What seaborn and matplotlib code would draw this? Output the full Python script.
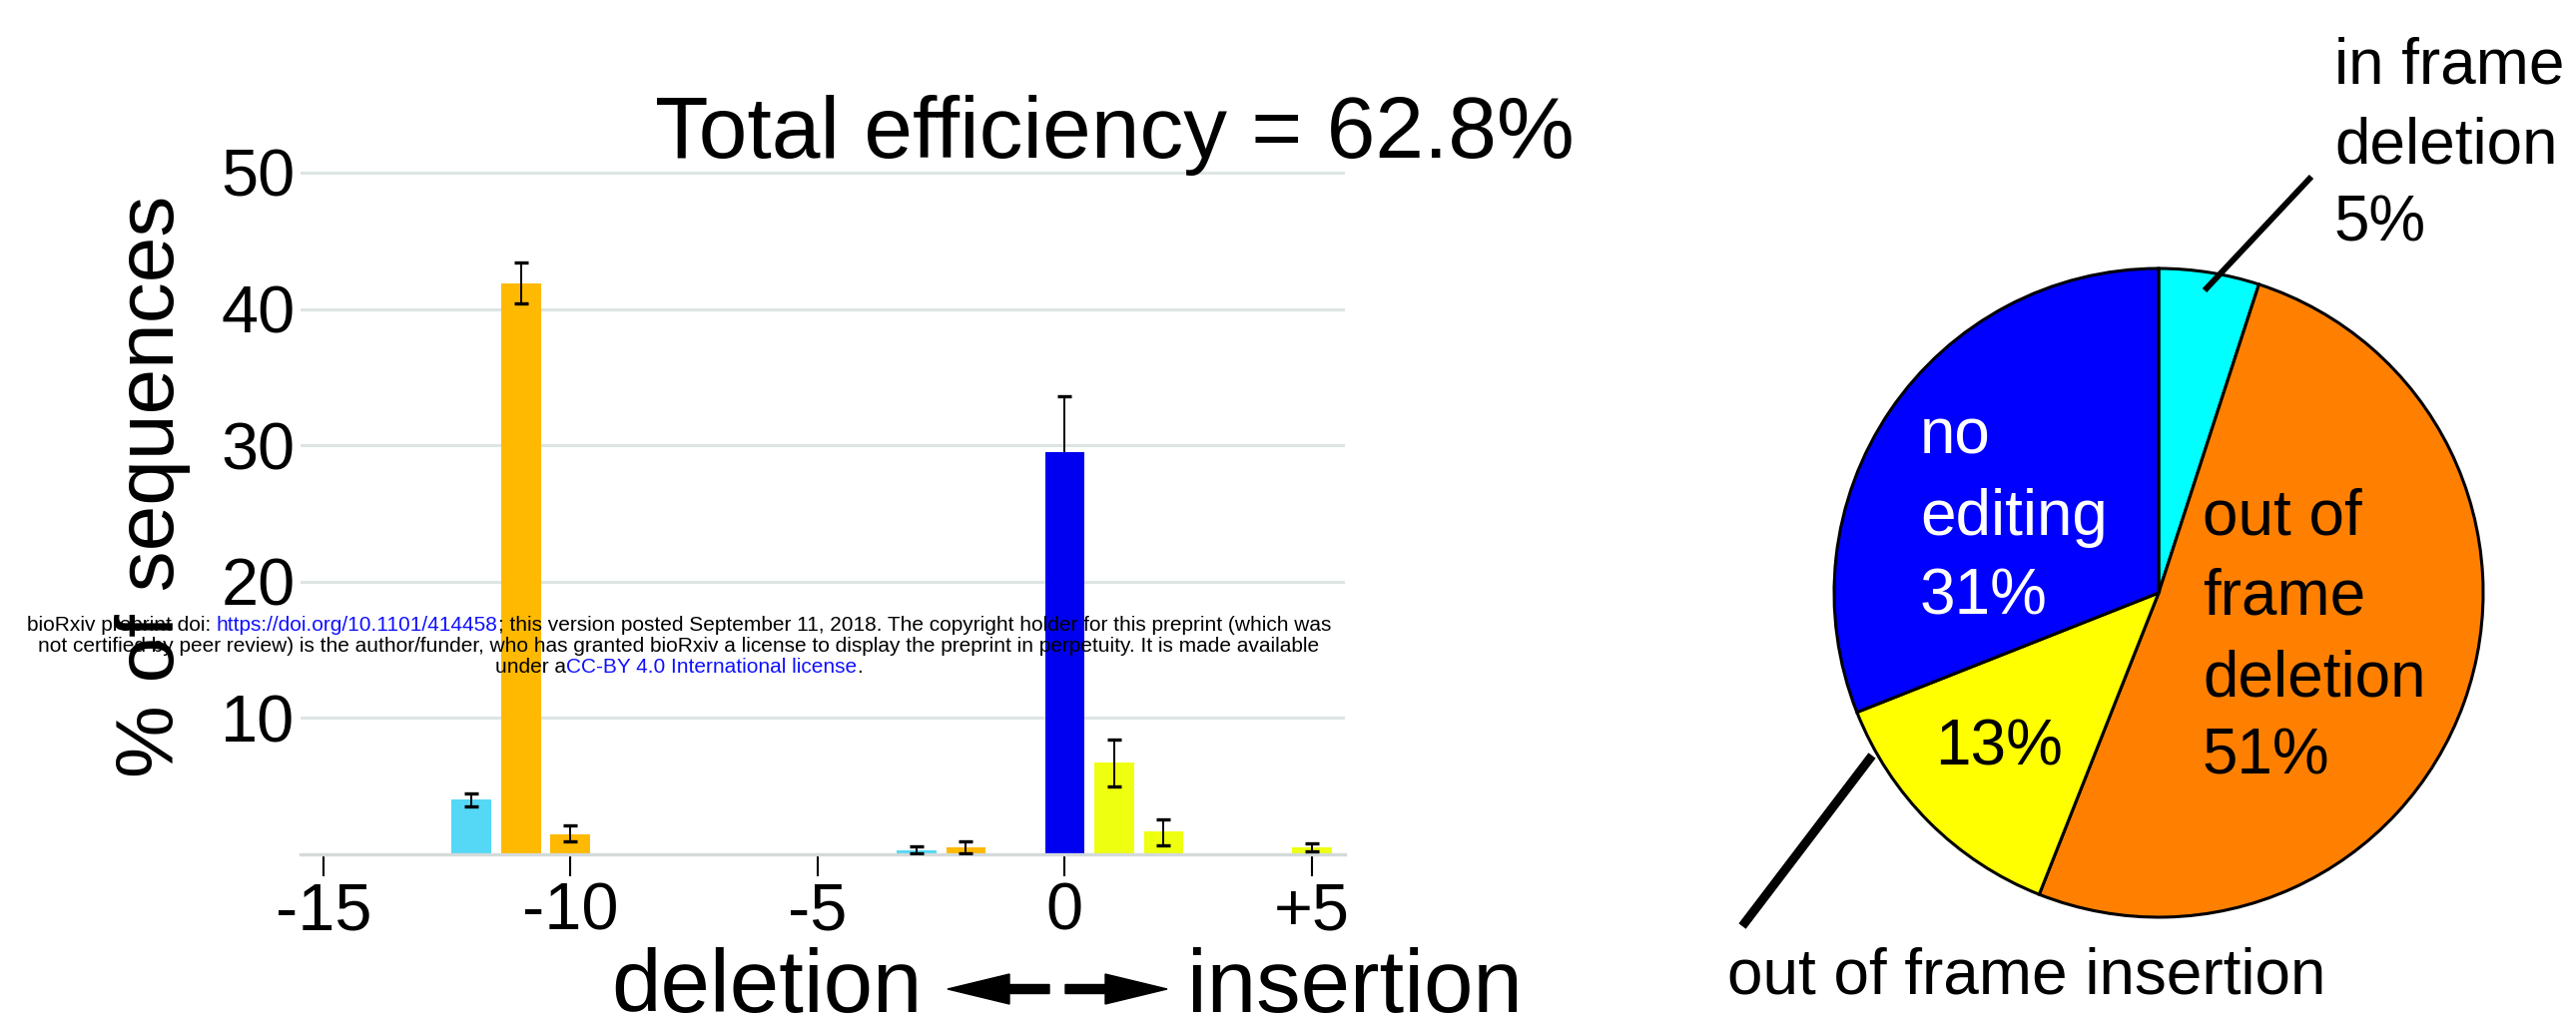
import numpy as np
import pandas as pd
import matplotlib
matplotlib.use("Agg")
import matplotlib.pyplot as plt
import matplotlib.transforms as mtransforms
from matplotlib.patches import FancyArrow
from matplotlib.lines import Line2D
import seaborn as sns

# ---- indel spectrum (bar chart) ----
indel_size = [-12, -11, -10, -3, -2, 0, 1, 2, 5]
pct_sequences = [4.0, 41.9, 1.45, 0.3, 0.5, 29.5, 6.7, 1.65, 0.5]
err_low = [0.45, 1.5, 0.5, 0.25, 0.45, 4.1, 1.7, 1.0, 0.3]
err_high = [0.5, 1.5, 0.7, 0.3, 0.45, 4.1, 1.7, 0.9, 0.3]
outcome = ["in frame deletion", "out of frame deletion", "out of frame deletion",
           "in frame deletion", "out of frame deletion", "no editing",
           "out of frame insertion", "out of frame insertion", "out of frame insertion"]
bar_palette = {"in frame deletion": "#55d8f6", "out of frame deletion": "#ffb900",
               "no editing": "#0000f0", "out of frame insertion": "#eeff10"}

x_ticks = [-15, -10, -5, 0, 5]
x_tick_labels = ["-15", "-10", "-5", "0", "+5"]
y_ticks = [10, 20, 30, 40, 50]
total_efficiency = 62.8

# ---- outcome summary (pie chart) ----
pie_categories = ["in frame deletion", "out of frame deletion", "out of frame insertion", "no editing"]
pie_pct = [5, 51, 13, 31]
pie_colors = ["#00ffff", "#ff8000", "#ffff00", "#0000ff"]

sns.set_theme(style="white")
plt.rcParams["font.family"] = ["Liberation Sans", "DejaVu Sans"]
plt.rcParams.update({"text.color": "black", "xtick.color": "black",
                     "ytick.color": "black", "axes.labelcolor": "black"})

W, H = 2580, 1022
fig = plt.figure(figsize=(W / 100, H / 100), dpi=100)
fig.patch.set_facecolor("white")


def fig_xy(x, y):
    """pixel position measured from the top-left corner -> figure fraction"""
    return x / W, 1 - y / H


def ftext(x, y, s, **kw):
    fx, fy = fig_xy(x, y)
    return fig.text(fx, fy, s, **kw)


# ---------------- bar chart ----------------
y0_px, px_per_pct = 856, 13.66
ymax = 51
ax = fig.add_axes([301 / W, 1 - y0_px / H, (1347 - 301) / W, ymax * px_per_pct / H])

df = pd.DataFrame({"indel": indel_size, "pct": pct_sequences, "outcome": outcome})
sns.barplot(data=df, x="indel", y="pct", hue="outcome", palette=bar_palette,
            native_scale=True, dodge=False, width=0.8, saturation=1,
            errorbar=None, legend=False, linewidth=0, zorder=2, ax=ax)

lo = np.array(err_low)
hi = np.array(err_high)
xs = np.array(indel_size, dtype=float)
ys = np.array(pct_sequences)
behind = np.array(outcome) == "no editing"
# the no-editing bar hides the lower half of its whisker
ax.errorbar(xs[behind], ys[behind], yerr=[lo[behind], hi[behind]], fmt="none",
            ecolor="black", elinewidth=1.4, capsize=5, capthick=2.4, zorder=1)
ax.errorbar(xs[~behind], ys[~behind], yerr=[lo[~behind], hi[~behind]], fmt="none",
            ecolor="black", elinewidth=1.4, capsize=5, capthick=2.4, zorder=3)

ax.set_xlim(-15.46, 5.67)
ax.set_ylim(0, ymax)
ax.set_xticks(x_ticks)
ax.set_xticklabels(x_tick_labels)
ax.set_yticks(y_ticks)
ax.set_yticklabels([str(v) for v in y_ticks])
ax.set_xlabel("")
ax.set_ylabel("")
ax.set_axisbelow(True)
ax.yaxis.grid(True, color="#dde4e4", linewidth=2.2)
ax.xaxis.grid(False)
sns.despine(ax=ax, left=True, top=True, right=True)
ax.spines["bottom"].set_position(("data", 0))
ax.spines["bottom"].set_color("#d3dada")
ax.spines["bottom"].set_linewidth(2.4)
ax.tick_params(axis="x", direction="out", length=15.8, width=1.5, color="black",
               pad=4, labelsize=48, bottom=True)
ax.tick_params(axis="y", length=0, pad=4, labelsize=48)
ax.patch.set_alpha(0)

ftext(1577, 158, f"Total efficiency = {total_efficiency}%", fontsize=63,
      ha="right", va="baseline")
ftext(153, 487, "% of sequences", fontsize=59, rotation=90, ha="center", va="center")
label_base = 1014
ftext(924, label_base, "deletion", fontsize=64, ha="right", va="baseline")
ftext(1189, label_base, "insertion", fontsize=64, ha="left", va="baseline")
ident = mtransforms.IdentityTransform()
arrow_y = H - (label_base - 23)
fig.add_artist(FancyArrow(1051, arrow_y, -102, 0, width=9, head_width=30, head_length=62,
                          length_includes_head=True, color="black", transform=ident))
fig.add_artist(FancyArrow(1067, arrow_y, 102, 0, width=9, head_width=30, head_length=62,
                          length_includes_head=True, color="black", transform=ident))

# ---------------- pie chart ----------------
cx, cy, r = 2162, 594, 325
pax = fig.add_axes([(cx - r) / W, 1 - (cy + r) / H, 2 * r / W, 2 * r / H])
pax.pie(pie_pct, colors=pie_colors, startangle=90, counterclock=False,
        wedgeprops=dict(edgecolor="black", linewidth=2.2, clip_on=False))
pax.set_xlim(-1, 1)
pax.set_ylim(-1, 1)
pax.set_axis_off()

pct_text = {c: f"{p}%" for c, p in zip(pie_categories, pie_pct)}
pie_fs = 46
for s, yb in zip(["no", "editing", pct_text["no editing"]], [454, 536, 615]):
    ftext(1923, yb, s, fontsize=pie_fs, color="white", ha="left", va="baseline")
for s, yb in zip(["out of", "frame", "deletion", pct_text["out of frame deletion"]],
                 [536, 615, 697, 776]):
    ftext(2206, yb, s, fontsize=pie_fs, color="black", ha="left", va="baseline")
ftext(2002, 766, pct_text["out of frame insertion"], fontsize=pie_fs, ha="center", va="baseline")
for s, yb in zip(["in frame", "deletion", pct_text["in frame deletion"]], [83, 163, 242]):
    ftext(2338, yb, s, fontsize=pie_fs, color="black", ha="left", va="baseline")
ftext(1730, 995, "out of frame insertion", fontsize=pie_fs, ha="left", va="baseline")


def leader(x1, y1, x2, y2, lw):
    a, b = fig_xy(x1, y1)
    c, d = fig_xy(x2, y2)
    fig.add_artist(Line2D([a, c], [b, d], transform=fig.transFigure, color="black",
                          lw=lw, solid_capstyle="butt"))


leader(2315, 177, 2208, 291, 4.3)
leader(1875, 757, 1745, 928, 6.5)

# ---------------- preprint notice ----------------
renderer = fig.canvas.get_renderer()
wm_fs = 15
link_blue = "#1010ff"
notice = [
    (632, [("bioRxiv preprint doi: ", "black"), ("https://doi.org/10.1101/414458", link_blue),
           ("; this version posted September 11, 2018. The copyright holder for this preprint (which was", "black")]),
    (653, [("not certified by peer review) is the author/funder, who has granted bioRxiv a license "
            "to display the preprint in perpetuity. It is made available", "black")]),
    (674, [("under a", "black"), ("CC-BY 4.0 International license", link_blue), (".", "black")]),
]


def text_width(s):
    probe = fig.text(0, 0, s + "|", fontsize=wm_fs)
    bar = fig.text(0, 0, "|", fontsize=wm_fs)
    w = probe.get_window_extent(renderer).width - bar.get_window_extent(renderer).width
    probe.remove()
    bar.remove()
    return w


for yb, pieces in notice:
    full = "".join(p for p, _ in pieces)
    x = 680 - text_width(full) / 2
    for s, col in pieces:
        ftext(x, yb, s, fontsize=wm_fs, color=col, ha="left", va="baseline", zorder=10)
        x += text_width(s)

fig.savefig("out.png", dpi=100, facecolor="white")
